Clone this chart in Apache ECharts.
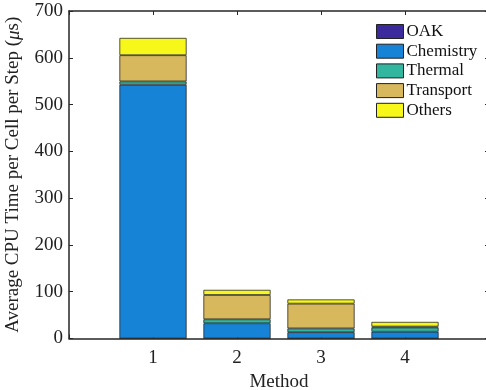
<!DOCTYPE html>
<html>
<head>
<meta charset="utf-8">
<script src="https://cdn.jsdelivr.net/npm/echarts@6/dist/echarts.min.js"></script>
<style>
  html, body { margin: 0; padding: 0; background: #fff; }
  #chart { width: 486px; height: 390px; }
</style>
</head>
<body>
<div id="chart"></div>
<script>
// Per-step CPU time breakdown (µs per cell) for four solution methods
const xSlots = ['0', '1', '2', '3', '4', '5'];   // axis runs 0..5, bars sit on 1..4
const methods = ['1', '2', '3', '4'];
const oak = [0.5, 0.5, 0.5, 0.5];
const chemistry = [542, 32, 13, 14];
const thermal = [7, 8.5, 8, 9];
const transport = [56, 52, 53, 2];
const others = [37, 11, 9, 10];
const yTicks = [0, 100, 200, 300, 400, 500, 600, 700];

const FONT = 'Liberation Serif';
const AXIS = '#262626';

const seriesDefs = [
  { name: 'OAK', data: oak, color: '#3b2a9b' },
  { name: 'Chemistry', data: chemistry, color: '#1783d6' },
  { name: 'Thermal', data: thermal, color: '#33b69f' },
  { name: 'Transport', data: transport, color: '#d8b85c' },
  { name: 'Others', data: others, color: '#f7f71a' }
];

// place each method's value on its slot of the axis
function toSlots(values) {
  return xSlots.map(s => {
    const i = methods.indexOf(s);
    return i >= 0 ? values[i] : '-';
  });
}

const chart = echarts.init(document.getElementById('chart'));

const axisCommon = {
  axisLine: { show: true, onZero: false, lineStyle: { color: AXIS, width: 1.5 } },
  axisTick: { show: true, inside: true, length: 4, lineStyle: { color: AXIS, width: 1 } },
  splitLine: { show: false }
};

chart.setOption({
  animation: false,
  textStyle: { fontFamily: FONT },
  grid: {
    left: 69, top: 11, width: 420, height: 327.5,
    containLabel: false, outerBoundsMode: 'none'
  },
  legend: {
    data: seriesDefs.map(s => s.name),
    orient: 'vertical',
    left: 371,
    top: 18,
    itemWidth: 27,
    itemHeight: 14,
    itemGap: 2.7,
    icon: 'rect',
    selectedMode: false,
    textStyle: { fontFamily: FONT, fontSize: 17, color: '#111', padding: [0, 0, 0, -2] },
    itemStyle: { borderColor: '#222', borderWidth: 1 }
  },
  xAxis: [
    Object.assign({
      type: 'category', data: xSlots, boundaryGap: false, position: 'bottom',
      name: 'Method', nameLocation: 'middle', nameGap: 29,
      nameTextStyle: { fontFamily: FONT, fontSize: 19, color: '#222' },
      axisLabel: {
        fontFamily: FONT, fontSize: 19, color: '#222', margin: 10,
        formatter: v => (methods.indexOf(v) >= 0 ? v : '')
      }
    }, axisCommon),
    Object.assign({
      type: 'category', data: xSlots, boundaryGap: false, position: 'top',
      axisLabel: { show: false }
    }, axisCommon)
  ],
  yAxis: [
    Object.assign({
      type: 'value', min: yTicks[0], max: yTicks[yTicks.length - 1], interval: 100,
      position: 'left',
      name: 'Average CPU Time per Cell per Step ({it|\u03BC}s)',
      nameLocation: 'middle', nameGap: 46,
      nameTextStyle: {
        fontFamily: FONT, fontSize: 19, color: '#222',
        rich: { it: { fontFamily: FONT, fontSize: 19, fontStyle: 'italic', color: '#222' } }
      },
      axisLabel: { fontFamily: FONT, fontSize: 19, color: '#222', margin: 6 }
    }, axisCommon),
    Object.assign({
      type: 'value', min: yTicks[0], max: yTicks[yTicks.length - 1], interval: 100,
      position: 'right', axisLabel: { show: false }
    }, axisCommon)
  ],
  series: seriesDefs.map(s => ({
    name: s.name,
    type: 'bar',
    stack: 'total',
    barWidth: '80%',
    data: toSlots(s.data),
    itemStyle: { color: s.color, borderColor: '#2a2a2a', borderWidth: 0.8 }
  }))
});
</script>
</body>
</html>
